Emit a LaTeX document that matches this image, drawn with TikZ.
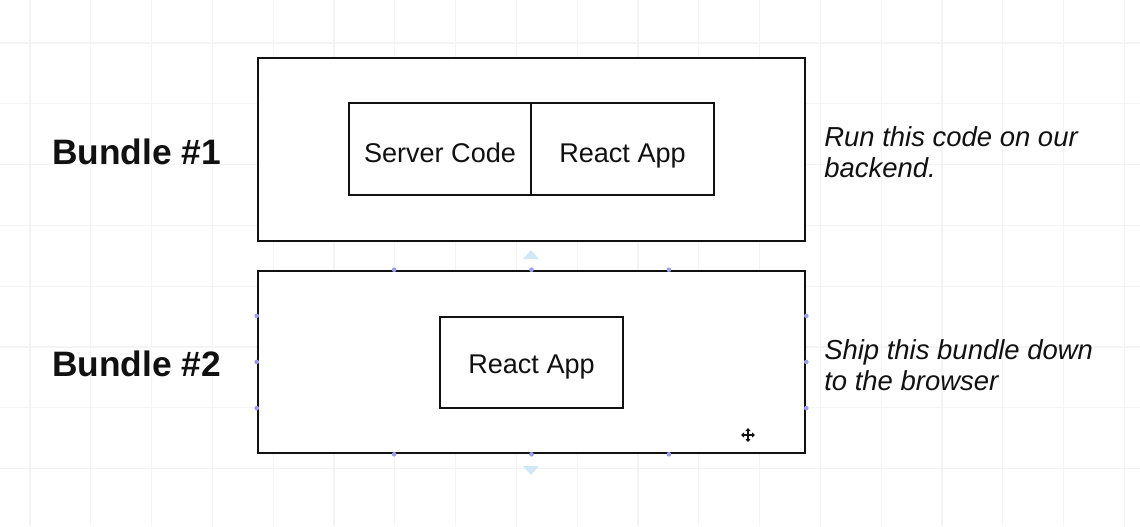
\documentclass[tikz,border=0pt]{standalone}
\usepackage{fontspec}
\setmainfont{Liberation Sans}
\usetikzlibrary{calc}
\definecolor{gridline}{HTML}{F4F4F4}
\definecolor{ink}{HTML}{111111}
\definecolor{handle}{HTML}{9D9BEA}
\definecolor{nudge}{HTML}{CFE9F5}
\begin{document}
\begin{tikzpicture}[x=0.75pt,y=-0.75pt,
  bundlebox/.style={draw=ink,line width=1.9pt,fill=white,inner sep=0pt},
  partbox/.style={draw=ink,line width=1.6pt,fill=white,inner sep=0pt,text depth=0pt,
    font=\fontsize{20.3pt}{24pt}\selectfont,text=ink},
  bundlelabel/.style={anchor=west,inner sep=0pt,font=\fontsize{26.5pt}{30pt}\selectfont\bfseries,text=ink},
  note/.style={anchor=west,align=left,inner sep=0pt,font=\fontsize{20.6pt}{23.3pt}\selectfont\itshape,text=ink},
  handledot/.style={fill=handle,draw=none,circle,inner sep=0pt,minimum size=3.5pt}]
% canvas and grid
\useasboundingbox (0,0) rectangle (1140,526);
\fill[white] (0,0) rectangle (1140,526);
\foreach \k in {0,...,18} \draw[gridline,line width=0.8pt] ({30+60.8*\k},0) -- ({30+60.8*\k},526);
\foreach \k in {0,...,8} \draw[gridline,line width=0.8pt] (0,{43+60.8*\k}) -- (1140,{43+60.8*\k});

% bundle 1
\node[bundlebox,minimum width={547*0.75pt},minimum height={183*0.75pt}] (b1) at (531.5,149.5) {};
\node[partbox,text height=19.5pt,minimum width={182*0.75pt},minimum height={92*0.75pt}] (srv) at (440,149) {Server Code};
\node[partbox,text height=19.5pt,minimum width={183*0.75pt},minimum height={92*0.75pt}] (app1) at (622.5,149) {React App};
\node[bundlelabel] (l1) at (52,152) {Bundle \#1};
\node[note] (n1) at (824,152) {Run this code on our\\backend.};

% bundle 2 (selected)
\node[bundlebox,minimum width={547*0.75pt},minimum height={182*0.75pt}] (b2) at (531.5,362) {};
\node[partbox,text height=16pt,minimum width={183*0.75pt},minimum height={91*0.75pt}] (app2) at (531.5,362.5) {React App};
\node[bundlelabel] (l2) at (52,364) {Bundle \#2};
\node[note] (n2) at (824,365) {Ship this bundle down\\to the browser};

% selection handles on bundle 2
\foreach \a in {0.25,0.5,0.75} {
  \node[handledot] at ($(b2.north west)!\a!(b2.north east)$) {};
  \node[handledot] at ($(b2.south west)!\a!(b2.south east)$) {};
  \node[handledot] at ($(b2.north west)!\a!(b2.south west)$) {};
  \node[handledot] at ($(b2.north east)!\a!(b2.south east)$) {};
}
\fill[nudge] (523,259) -- (539,259) -- (531,250) -- cycle;
\fill[nudge] (523,466) -- (539,466) -- (531,475) -- cycle;

% move cursor
\coordinate (cur) at (748,435);
\draw[ink,line width=1.9pt] ([xshift=-4pt]cur) -- ([xshift=4pt]cur);
\draw[ink,line width=1.9pt] ([yshift=-4pt]cur) -- ([yshift=4pt]cur);
\fill[ink] ([xshift=-5.2pt]cur) -- ++(2.2pt,2pt) -- ++(0,-4pt) -- cycle;
\fill[ink] ([xshift=5.2pt]cur) -- ++(-2.2pt,2pt) -- ++(0,-4pt) -- cycle;
\fill[ink] ([yshift=-5.2pt]cur) -- ++(2pt,2.2pt) -- ++(-4pt,0) -- cycle;
\fill[ink] ([yshift=5.2pt]cur) -- ++(2pt,-2.2pt) -- ++(-4pt,0) -- cycle;
\end{tikzpicture}
\end{document}
